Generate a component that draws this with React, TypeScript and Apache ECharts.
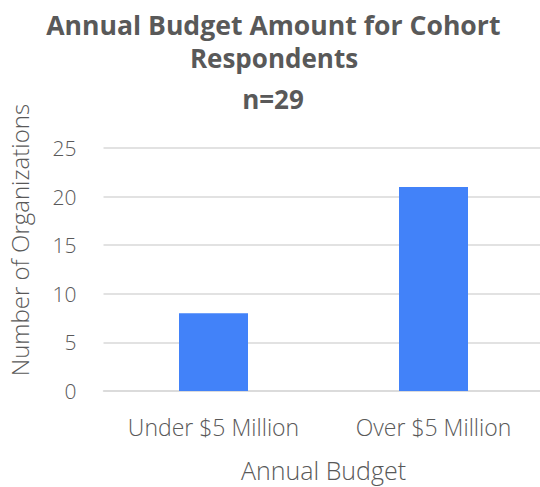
import React, { useEffect, useRef } from "react";
import * as echarts from "echarts";

const categories = ["Under $5 Million", "Over $5 Million"];
const values = [8, 21];
const titleLines = ["Annual Budget Amount for Cohort", "Respondents"];
const subtitle = "n=29";
const yAxisName = "Number of Organizations";
const xAxisName = "Annual Budget";

const FONT = "'Open Sans', 'Noto Sans', sans-serif";
const GREY = "#595959";

export default function App() {
  const ref = useRef<HTMLDivElement>(null);
  useEffect(() => {
    const chart = echarts.init(ref.current!, undefined, { renderer: "svg" });
    const titleStyle = { fontFamily: FONT, fontSize: 26, fontWeight: "bold", color: GREY, lineHeight: 26 };
    chart.setOption({
      animation: false,
      backgroundColor: "#ffffff",
      title: [
        {
          text: titleLines[0],
          left: 273.3,
          textAlign: "center",
          top: 11.5,
          padding: 0,
          textStyle: { ...titleStyle, fontSize: 26.6, lineHeight: 26.6 },
        },
        { text: titleLines[1], left: 274, textAlign: "center", top: 45, padding: 0, textStyle: titleStyle },
        { text: subtitle, left: 273, textAlign: "center", top: 86, padding: 0, textStyle: titleStyle },
      ],
      graphic: [
        {
          type: "text",
          x: 19,
          y: 240,
          rotation: Math.PI / 2,
          style: {
            text: yAxisName,
            fontFamily: FONT,
            fontSize: 24,
            fontWeight: 300,
            fill: GREY,
            textAlign: "center",
            textVerticalAlign: "middle",
          },
        },
      ],
      grid: { left: 103.5, right: 0.5, top: 148, bottom: 487 - 393 },
      xAxis: {
        type: "category",
        data: categories,
        name: xAxisName,
        nameLocation: "middle",
        nameGap: 66,
        nameTextStyle: { fontFamily: FONT, fontSize: 25, fontWeight: 300, color: GREY },
        axisLine: { show: true, lineStyle: { color: "#d9d9d9", width: 1.5 } },
        axisTick: { show: false },
        axisLabel: { interval: 0, fontFamily: FONT, fontSize: 23, fontWeight: 300, color: GREY, margin: 24 },
      },
      yAxis: {
        type: "value",
        min: 0,
        max: 25,
        interval: 5,
        axisLine: { show: false },
        axisTick: { show: false },
        axisLabel: { fontFamily: FONT, fontSize: 21, fontWeight: 300, color: GREY, margin: 27 },
        splitLine: { lineStyle: { color: "#d9d9d9", width: 1.5 } },
      },
      series: [
        {
          type: "bar",
          data: values,
          barWidth: 69,
          itemStyle: { color: "#4282F9" },
        },
      ],
    });
    return () => chart.dispose();
  }, []);
  return (
    <div style={{ position: "fixed", left: 0, top: 0, width: 540, height: 487, overflow: "hidden" }}>
      <div ref={ref} style={{ width: 544, height: 487 }} />
    </div>
  );
}
